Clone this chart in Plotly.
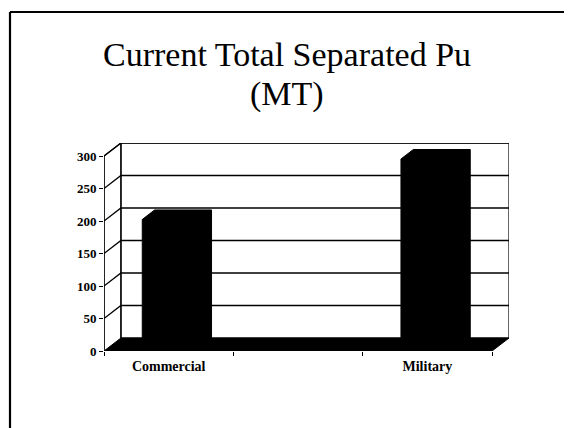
import plotly.graph_objects as go

# ---- data ----
categories = ["Commercial", "", "Military"]
values = [200, None, 293]
y_ticks = [0, 50, 100, 150, 200, 250, 300]
y_max = 300
title_lines = ["Current Total Separated Pu", "(MT)"]

# ---- 3D-look styling constants ----
DX = 0.131   # depth offset in category units
DY = 20      # depth offset in value units
BAR_W = 0.44
F0, F1 = 0.12, 0.85
SERIF = "Liberation Serif, Times New Roman, serif"

# page offset (browser body margin)
OFF = 8
ML, MT, PW, PH = 104 - OFF, 143 - OFF, 405, 208
W, H = 572, 428


def pxp(x):  # page x pixel -> paper
    return (x - OFF - ML) / PW


def pyp(y):  # page y pixel -> paper
    return (MT + PH - (y - OFF)) / PH


n = len(categories)
xl, xr = -0.5, n - 0.5

fig = go.Figure()

# back wall
fig.add_trace(go.Scatter(
    x=[xl + DX, xr + DX, xr + DX, xl + DX, xl + DX],
    y=[DY, DY, y_max + DY, y_max + DY, DY],
    mode="lines", fill="toself", fillcolor="white",
    line=dict(color="black", width=1.2), hoverinfo="skip", showlegend=False))

# left side wall outline
fig.add_trace(go.Scatter(
    x=[xl, xl, xl + DX, xl + DX],
    y=[0, y_max, y_max + DY, DY],
    mode="lines", line=dict(color="black", width=1.2),
    hoverinfo="skip", showlegend=False))

# gridlines (side wall + back wall)
gx, gy = [], []
for v in y_ticks[1:]:
    gx += [xl, xl + DX, xr + DX, None]
    gy += [v, v + DY, v + DY, None]
fig.add_trace(go.Scatter(x=gx, y=gy, mode="lines",
                         line=dict(color="black", width=1.3),
                         hoverinfo="skip", showlegend=False))

# floor
fig.add_trace(go.Scatter(
    x=[xl, xl + DX, xr + DX, xr, xl],
    y=[0, DY, DY, 0, 0],
    mode="lines", fill="toself", fillcolor="black",
    line=dict(color="black", width=1), hoverinfo="skip", showlegend=False))

# bars (3D prisms)
ddx, ddy = (F1 - F0) * DX, (F1 - F0) * DY
for i, v in enumerate(values):
    if v is None:
        continue
    x0 = i - BAR_W / 2 + F0 * DX
    x1 = i + BAR_W / 2 + F0 * DX
    y0 = F0 * DY
    y1 = v + F0 * DY
    fig.add_trace(go.Scatter(
        x=[x0, x0, x0 + ddx, x1 + ddx, x1 + ddx, x1, x0],
        y=[y0, y1, y1 + ddy, y1 + ddy, y0 + ddy, y0, y0],
        mode="lines", fill="toself", fillcolor="black",
        line=dict(color="black", width=1), name=categories[i],
        hovertext=f"{categories[i]}: {v}", hoverinfo="text", showlegend=False))

# front value axis line
fig.add_trace(go.Scatter(x=[xl, xl], y=[0, y_max], mode="lines",
                         line=dict(color="black", width=1.3),
                         hoverinfo="skip", showlegend=False))

# slide border (top and left edges)
fig.add_shape(type="line", xref="paper", yref="paper",
              x0=pxp(10), x1=pxp(590), y0=pyp(12), y1=pyp(12),
              line=dict(color="black", width=2.2))
fig.add_shape(type="line", xref="paper", yref="paper",
              x0=pxp(10), x1=pxp(10), y0=pyp(12), y1=pyp(440),
              line=dict(color="black", width=2.2))

# title
for txt, ypage in zip(title_lines, [55, 94]):
    fig.add_annotation(text=txt, xref="paper", yref="paper",
                       x=pxp(286.5), y=pyp(ypage), xanchor="center",
                       yanchor="middle", showarrow=False,
                       font=dict(family=SERIF, size=34, color="black"))

fig.update_layout(
    width=W, height=H,
    margin=dict(l=ML, r=W - ML - PW, t=MT, b=H - MT - PH, autoexpand=False),
    paper_bgcolor="white", plot_bgcolor="white",
    xaxis=dict(range=[xl, xr + DX], showgrid=False, zeroline=False,
               showline=False, tickvals=list(range(n)), ticktext=categories,
               ticks="", ticklabelstandoff=5,
               tickfont=dict(family=SERIF, size=14, color="black",
                             weight="bold"),
               minor=dict(tickvals=[xl + k for k in range(n + 1)],
                          ticks="outside", ticklen=4, tickcolor="black",
                          tickwidth=1.2, showgrid=False),
               fixedrange=True),
    yaxis=dict(range=[0, y_max + DY], showgrid=False, zeroline=False,
               showline=False, tickvals=y_ticks, ticks="outside",
               ticklen=4, tickcolor="black", tickwidth=1.2,
               tickfont=dict(family=SERIF, size=13, color="black",
                             weight="bold"),
               fixedrange=True),
    showlegend=False,
)

fig.write_html("out.html")
